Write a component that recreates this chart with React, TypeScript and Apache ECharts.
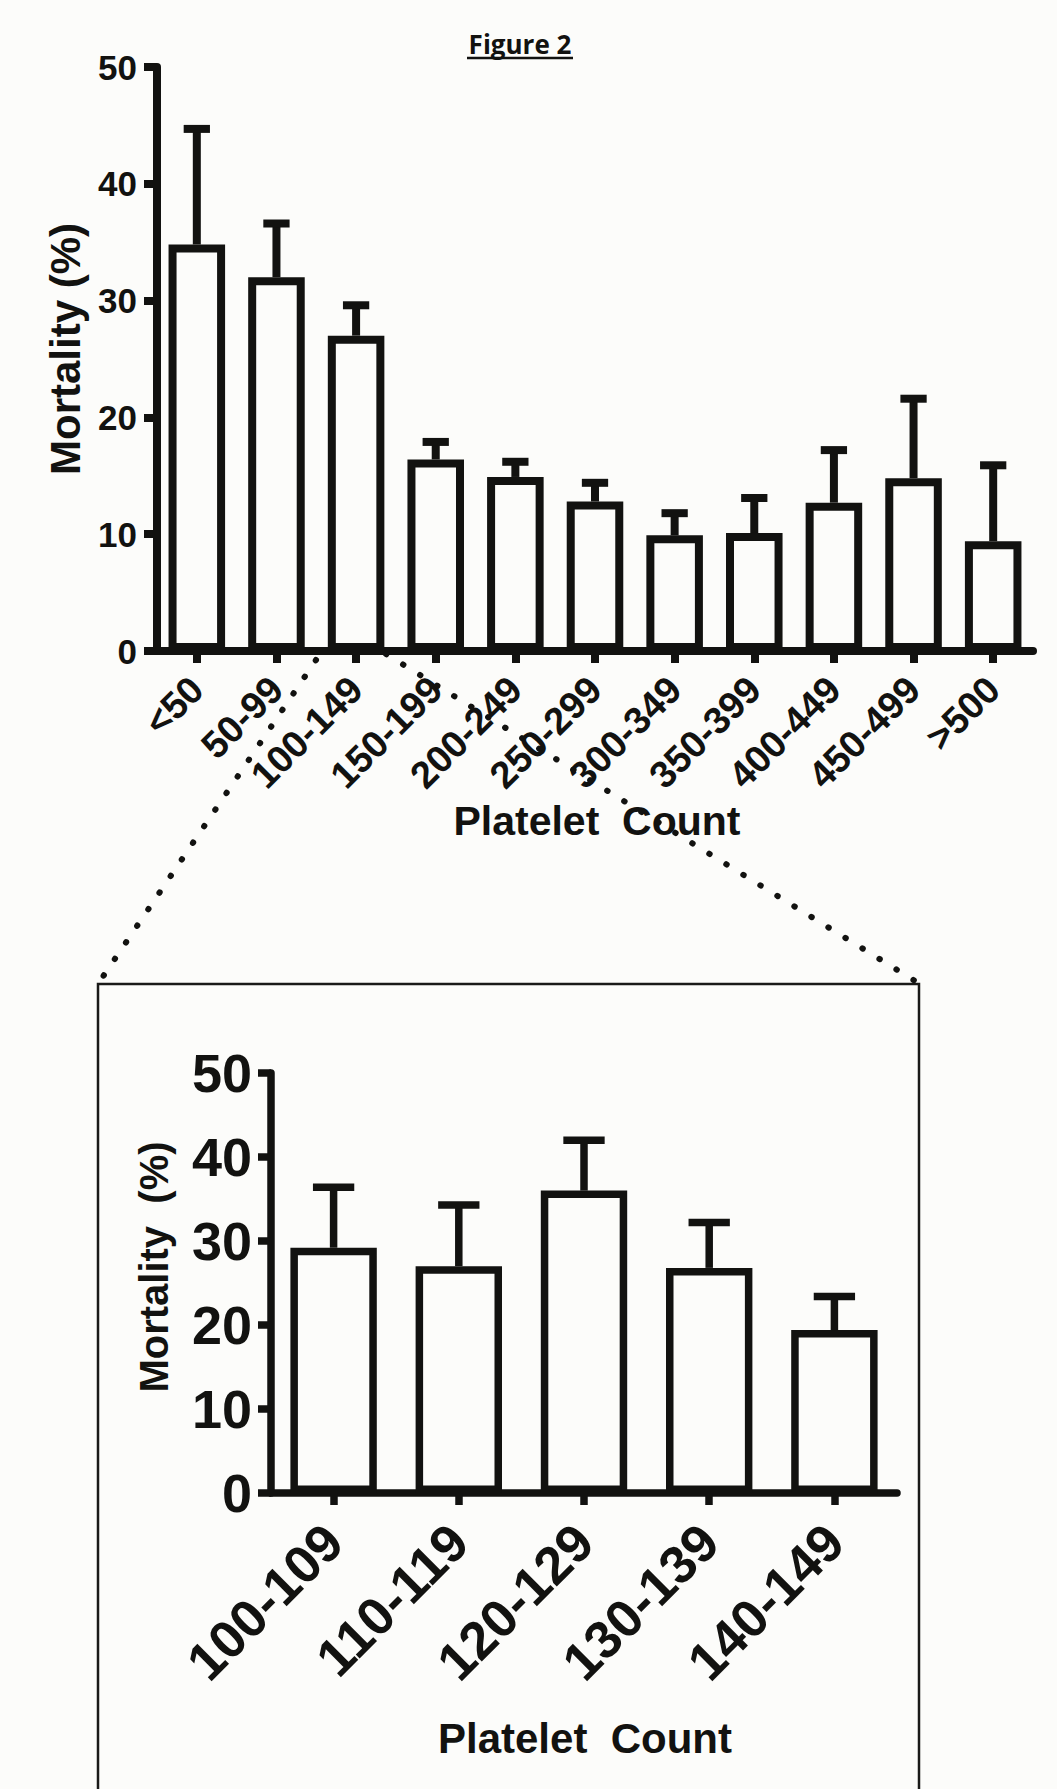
import React, { useEffect, useRef } from "react";
import * as echarts from "echarts";

// ---------- data ----------
const topCategories = ["<50", "50-99", "100-149", "150-199", "200-249", "250-299", "300-349", "350-399", "400-449", "450-499", ">500"];
const topMortality = [34.8, 32.0, 27.0, 16.4, 14.9, 12.8, 9.9, 10.1, 12.7, 14.8, 9.4];
const topUpper = [44.7, 36.6, 29.6, 17.9, 16.2, 14.4, 11.8, 13.1, 17.2, 21.6, 15.9];

const zoomCategories = ["100-109", "110-119", "120-129", "130-139", "140-149"];
const zoomMortality = [29.2, 27.0, 36.0, 26.8, 19.4];
const zoomUpper = [36.4, 34.3, 42.0, 32.2, 23.4];

const yTicks = { min: 0, max: 50, interval: 10 };

const INK = "#121210";
const BG = "#fcfcfa";
const FONT = '"Liberation Sans", Arial, sans-serif';

function errorRender(lw: number) {
  return (params: any, api: any) => {
    const x = api.value(0);
    const lo = api.coord([x, api.value(1)]);
    const hi = api.coord([x, api.value(2)]);
    const bw = api.size([1, 0])[0];
    const half = bw * 0.165;
    return {
      type: "group",
      children: [
        { type: "line", shape: { x1: lo[0], y1: lo[1], x2: hi[0], y2: hi[1] }, style: { stroke: INK, lineWidth: lw } },
        { type: "line", shape: { x1: hi[0] - half, y1: hi[1], x2: hi[0] + half, y2: hi[1] }, style: { stroke: INK, lineWidth: lw } },
      ],
    };
  };
}

function yAxis(gridIndex: number, fontSize: number, margin: number, tickLen: number, lw: number) {
  return {
    type: "value",
    gridIndex,
    min: yTicks.min,
    max: yTicks.max,
    interval: yTicks.interval,
    splitLine: { show: false },
    axisLine: { show: true, lineStyle: { color: INK, width: lw } },
    axisTick: { show: true, length: tickLen, lineStyle: { color: INK, width: lw } },
    axisLabel: { color: INK, fontSize, fontWeight: "bold", fontFamily: FONT, margin },
  };
}

function xAxis(gridIndex: number, data: string[], fontSize: number, margin: number, tickLen: number, lw: number) {
  return {
    type: "category",
    gridIndex,
    data,
    boundaryGap: true,
    axisLine: { show: true, lineStyle: { color: INK, width: lw } },
    axisTick: { show: true, alignWithLabel: true, length: tickLen, lineStyle: { color: INK, width: lw } },
    axisLabel: {
      color: INK,
      fontSize,
      fontWeight: "bold",
      fontFamily: FONT,
      rotate: 45,
      margin,
      interval: 0,
    },
  };
}

export default function App() {
  const ref = useRef<HTMLDivElement>(null);
  useEffect(() => {
    document.body.style.margin = "0";
    document.body.style.overflow = "hidden";
    const chart = echarts.init(ref.current!, undefined, { renderer: "svg" });
    const option: any = {
      animation: false,
      backgroundColor: BG,
      grid: [
        { left: 157, top: 67, width: 876, height: 584, containLabel: false },
        { left: 271, top: 1073, width: 626, height: 420, containLabel: false },
      ],
      xAxis: [xAxis(0, topCategories, 38, 32, 12, 8), xAxis(1, zoomCategories, 53, 40, 12, 7.5)],
      yAxis: [yAxis(0, 35, 20, 13, 8), yAxis(1, 54, 19, 13, 7.5)],
      series: [
        {
          type: "bar",
          xAxisIndex: 0,
          yAxisIndex: 0,
          data: topMortality,
          barWidth: "71%",
          itemStyle: { color: BG, borderColor: INK, borderWidth: 8 },
          z: 2,
        },
        {
          type: "custom",
          xAxisIndex: 0,
          yAxisIndex: 0,
          data: topCategories.map((_, i) => [i, topMortality[i], topUpper[i]]),
          encode: { x: 0, y: [1, 2] },
          renderItem: errorRender(8),
          z: 3,
        },
        {
          type: "bar",
          xAxisIndex: 1,
          yAxisIndex: 1,
          data: zoomMortality,
          barWidth: "69%",
          itemStyle: { color: BG, borderColor: INK, borderWidth: 7.5 },
          z: 2,
        },
        {
          type: "custom",
          xAxisIndex: 1,
          yAxisIndex: 1,
          data: zoomCategories.map((_, i) => [i, zoomMortality[i], zoomUpper[i]]),
          encode: { x: 0, y: [1, 2] },
          renderItem: errorRender(7.5),
          z: 3,
        },
      ],
      graphic: [
        // title
        {
          type: "text",
          x: 520,
          y: 44,
          style: { text: "Figure 2", fill: INK, font: 'bold 26px "Open Sans", sans-serif', textAlign: "center", textVerticalAlign: "middle" },
        },
        { type: "line", shape: { x1: 467, y1: 58, x2: 573, y2: 58 }, style: { stroke: INK, lineWidth: 2.5 } },
        // top axis titles
        {
          type: "text",
          x: 65,
          y: 349,
          rotation: Math.PI / 2,
          style: { text: "Mortality (%)", fill: INK, font: 'bold 42px "Liberation Sans", Arial, sans-serif', textAlign: "center", textVerticalAlign: "middle" },
        },
        {
          type: "text",
          x: 597,
          y: 821,
          style: { text: "Platelet  Count", fill: INK, font: 'bold 41px "Liberation Sans", Arial, sans-serif', textAlign: "center", textVerticalAlign: "middle" },
        },
        // dotted zoom lines
        {
          type: "line",
          shape: { x1: 316, y1: 660, x2: 98, y2: 984 },
          style: { stroke: INK, lineWidth: 6, lineDash: [0.5, 19.5], lineCap: "round" },
          z: 10,
        },
        {
          type: "line",
          shape: { x1: 386, y1: 654, x2: 920, y2: 984 },
          style: { stroke: INK, lineWidth: 6, lineDash: [0.5, 19.5], lineCap: "round" },
          z: 10,
        },
        // inset box
        {
          type: "rect",
          shape: { x: 98, y: 984, width: 821, height: 860 },
          style: { fill: "none", stroke: "#1a1a18", lineWidth: 2.5 },
        },
        // inset axis titles
        {
          type: "text",
          x: 154,
          y: 1267,
          rotation: Math.PI / 2,
          style: { text: "Mortality  (%)", fill: INK, font: 'bold 40px "Liberation Sans", Arial, sans-serif', textAlign: "center", textVerticalAlign: "middle" },
        },
        {
          type: "text",
          x: 585,
          y: 1738,
          style: { text: "Platelet  Count", fill: INK, font: 'bold 42px "Liberation Sans", Arial, sans-serif', textAlign: "center", textVerticalAlign: "middle" },
        },
      ],
    };
    chart.setOption(option);
    return () => chart.dispose();
  }, []);
  return <div ref={ref} style={{ position: "absolute", left: 0, top: 0, width: 1057, height: 1789 }} />;
}
